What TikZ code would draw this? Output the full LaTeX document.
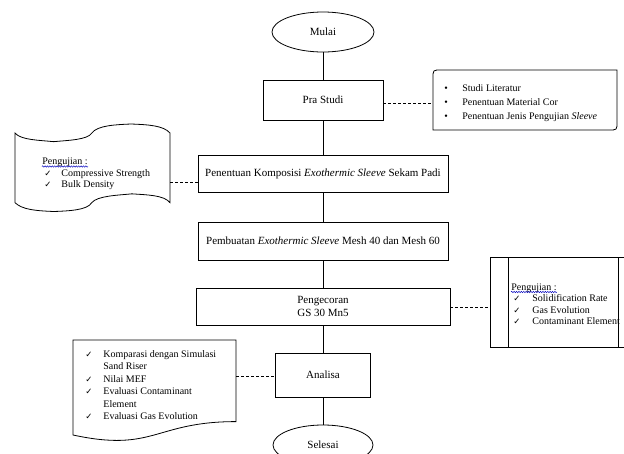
\documentclass[tikz,border=0pt]{standalone}
\usepackage{fontspec}
\setmainfont{Liberation Serif}
\newfontfamily\symfont{DejaVu Sans}
\usetikzlibrary{shapes.geometric,decorations.pathmorphing}
\begin{document}
\begin{tikzpicture}[x=1pt,y=-1pt,
  line width=0.8pt,
  mainbox/.style={draw, rectangle, inner sep=2pt, font=\fontsize{11}{13}\selectfont, align=center},
  oval/.style={draw, ellipse, inner sep=0pt, font=\fontsize{11}{13}\selectfont},
  conn/.style={line width=0.8pt},
  dashline/.style={line width=0.7pt, dash pattern=on 3pt off 2pt},
  item/.style={anchor=base west, inner sep=0pt, font=\fontsize{10}{12}\selectfont},
  chk/.style={anchor=base west, inner sep=0pt, font=\symfont\fontsize{8.5}{9}\selectfont},
  wavy/.style={draw=blue!75!black, line width=0.45pt, decorate, decoration={snake, segment length=2.4pt, amplitude=0.7pt}}
]
\useasboundingbox (0,0) rectangle (624,453);
\clip (0,0) rectangle (624,453);

% main column
\node[oval, minimum width=102pt, minimum height=40pt] (mulai) at (323,32) {Mulai};
\node[mainbox, minimum width=120pt, minimum height=40pt] (pra) at (323,100) {Pra Studi};
\node[mainbox, minimum width=250pt, minimum height=37pt] (komp) at (323,173.5) {Penentuan Komposisi \textit{Exothermic Sleeve} Sekam Padi};
\node[mainbox, minimum width=250pt, minimum height=38pt] (pemb) at (323,241) {Pembuatan \textit{Exothermic Sleeve} Mesh 40 dan Mesh 60};
\node[mainbox, minimum width=254pt, minimum height=37pt] (peng) at (323,306.5) {Pengecoran\\GS 30 Mn5};
\node[mainbox, minimum width=95pt, minimum height=44pt] (ana) at (323,375) {Analisa};
\node[oval, minimum width=100pt, minimum height=40pt] (selesai) at (323,445) {Selesai};

\draw[conn] (mulai.south) -- (mulai.south |- pra.north);
\draw[conn] (pra.south) -- (pra.south |- komp.north);
\draw[conn] (komp.south) -- (komp.south |- pemb.north);
\draw[conn] (pemb.south) -- (pemb.south |- peng.north);
\draw[conn] (peng.south) -- (peng.south |- ana.north);
\draw[conn] (ana.south) -- (ana.south |- selesai.north);

% side box 1 (Pra Studi)
\draw (433,130) -- (433,78) .. controls (433,70) .. (441,70) -- (617,70) -- (617,122) .. controls (617,130) .. (609,130) -- cycle;
\coordinate (s1w) at (433,103);
\draw[dashline] (pra.east |- s1w) -- (s1w);
\node[item] (b1) at (444,91.5) {•};
\node[item] (b1t) at (462,91.5) {Studi Literatur};
\node[item] (b2) at (444,105.5) {•};
\node[item] (b2t) at (462,105.5) {Penentuan Material Cor};
\node[item] (b3) at (444,119.5) {•};
\node[item] (b3t) at (462,119.5) {Penentuan Jenis Pengujian \textit{Sleeve}};

% tape (Penentuan Komposisi)
\begin{scope}[shift={(15,124)}, x=155pt, y=-87.5pt]
\draw (0,0.1032) .. controls (0.038,0.1847) and (0.1579,0.1843) .. (0.2486,0.2019)
  .. controls (0.344,0.1866) and (0.468,0.18) .. (0.4949,0.1051)
  .. controls (0.5296,0.0139) and (0.6574,0.0074) .. (0.7477,0)
  .. controls (0.8644,0.0079) and (0.9579,0.0181) .. (1,0.1032)
  -- (1,0.8991)
  .. controls (0.9625,0.8106) and (0.844,0.8097) .. (0.7542,0.7981)
  .. controls (0.6605,0.8147) and (0.5319,0.8208) .. (0.4949,0.8991)
  .. controls (0.4676,0.9861) and (0.343,0.994) .. (0.2505,1)
  .. controls (0.1389,0.9917) and (0.0477,0.981) .. (0,0.8991)
  -- cycle;
\end{scope}
\coordinate (tapee) at (170,182);
\draw[dashline] (tapee) -- (tapee -| komp.west);
\node[item] (pj1) at (42,164.5) {Pengujian :};
\draw[wavy] ([yshift=-2pt]pj1.base west) -- ([yshift=-2pt]pj1.base east);
\node[chk] (c11) at (44,176) {✓};
\node[item] (c11t) at (61,176) {Compressive Strength};
\node[chk] (c12) at (44,187.5) {✓};
\node[item] (c12t) at (61,187.5) {Bulk Density};

% predefined process (Pengecoran)
\draw (490,257) rectangle (632,347);
\draw (508,257) -- (508,347);
\draw (618,257) -- (618,347);
\coordinate (ppw) at (490,307);
\draw[dashline] (peng.east |- ppw) -- (ppw);
\node[item] (pj2) at (511,290) {Pengujian :};
\draw[wavy] ([yshift=-2pt]pj2.base west) -- ([yshift=-2pt]pj2.base east);
\node[chk] (c21) at (513,301.5) {✓};
\node[item] (c21t) at (532,301.5) {Solidification Rate};
\node[chk] (c22) at (513,313) {✓};
\node[item] (c22t) at (532,313) {Gas Evolution};
\node[chk] (c23) at (513,324.5) {✓};
\node[item] (c23t) at (532,324.5) {Contaminant Element};

% document (Analisa)
\draw (73,340) -- (236,340) -- (236,421.6) .. controls (154.5,421.6) and (154.5,452.6) .. (73,435) -- cycle;
\coordinate (doce) at (236,376);
\draw[dashline] (doce) -- (doce -| ana.west);
\node[chk] (d1) at (85,357.5) {✓};
\node[item] (d1t) at (103,357.5) {Komparasi dengan Simulasi};
\node[item] (d1u) at (103,369.9) {Sand Riser};
\node[chk] (d2) at (85,382.3) {✓};
\node[item] (d2t) at (103,382.3) {Nilai MEF};
\node[chk] (d3) at (85,394.7) {✓};
\node[item] (d3t) at (103,394.7) {Evaluasi Contaminant};
\node[item] (d3u) at (103,407.1) {Element};
\node[chk] (d4) at (85,419.5) {✓};
\node[item] (d4t) at (103,419.5) {Evaluasi Gas Evolution};
\end{tikzpicture}
\end{document}
